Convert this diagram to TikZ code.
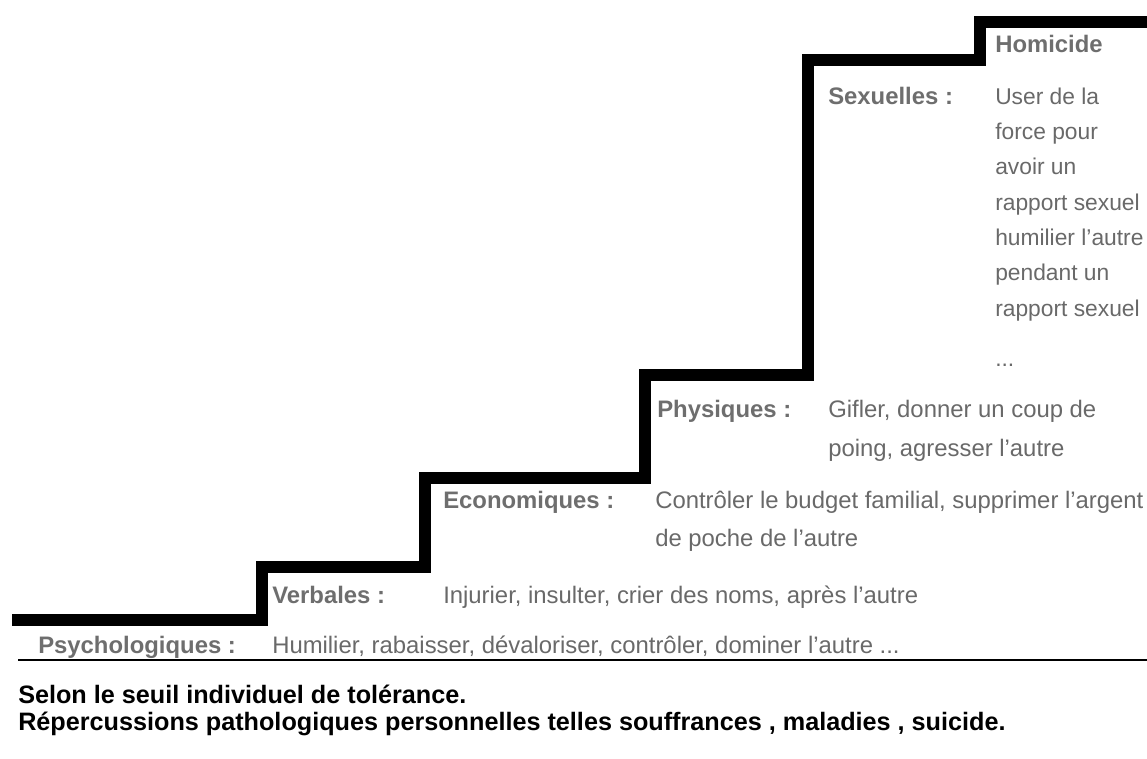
\documentclass[tikz,border=0pt]{standalone}
\usepackage{fontspec}
\setmainfont{Liberation Sans}
\definecolor{txtgray}{RGB}{105,105,105}
\definecolor{lblgray}{RGB}{110,110,110}
\begin{document}
\begin{tikzpicture}[x=0.75pt,y=-0.75pt,
  stair/.style={line width=9.5pt,black,line join=miter},
  body/.style={anchor=base west,inner sep=0pt,text=txtgray,font=\fontsize{17.9}{20}\selectfont},
  sbody/.style={body,font=\fontsize{17.1}{20}\selectfont},
  lbl/.style={anchor=base west,inner sep=0pt,text=lblgray,font=\fontsize{17.9}{20}\selectfont\bfseries},
  foot/.style={anchor=base west,inner sep=0pt,text=black,font=\fontsize{18.9}{21}\selectfont\bfseries}]
\useasboundingbox (0,0) rectangle (1147,758);
% stair corners
\coordinate (s0) at (12,620);
\coordinate (s1) at (262,620);
\coordinate (s2) at (262,567);
\coordinate (s3) at (425,567);
\coordinate (s4) at (425,478);
\coordinate (s5) at (645,478);
\coordinate (s6) at (645,375);
\coordinate (s7) at (808,375);
\coordinate (s8) at (808,60);
\coordinate (s9) at (980,60);
\coordinate (s10) at (980,22);
\coordinate (s11) at (1150,22);
\draw[stair] (s0) -- (s1) -- (s2) -- (s3) -- (s4) -- (s5) -- (s6) -- (s7) -- (s8) -- (s9) -- (s10) -- (s11);
% base line
\coordinate (b0) at (18,660);
\coordinate (b1) at (1150,660);
\draw[line width=2.2pt] (b0) -- (b1);
% texts
\node[lbl] (psy) at (38,653) {Psychologiques :};
\node[body] (psyt) at (272,653) {Humilier, rabaisser, dévaloriser, contrôler, dominer l'autre ...};
\node[lbl] (ver) at (272,603) {Verbales :};
\node[body] (vert) at (443,603) {Injurier, insulter, crier des noms, après l'autre};
\node[lbl] (eco) at (443,508) {Economiques :};
\node[body] (eco1) at (655,508) {Contrôler le budget familial, supprimer l'argent};
\node[body] (eco2) at (655,546) {de poche de l'autre};
\node[lbl] (phy) at (657,417) {Physiques :};
\node[body] (phy1) at (828,417) {Gifler, donner un coup de};
\node[body] (phy2) at (828,456) {poing, agresser l'autre};
\node[lbl] (sex) at (828,104) {Sexuelles :};
\node[sbody] (sx1) at (995,104) {User de la};
\node[sbody] (sx2) at (995,139) {force pour};
\node[sbody] (sx3) at (995,174) {avoir un};
\node[sbody] (sx4) at (995,210) {rapport sexuel};
\node[sbody] (sx5) at (995,245) {humilier l'autre};
\node[sbody] (sx6) at (995,280) {pendant un};
\node[sbody] (sx7) at (995,316) {rapport sexuel};
\node[sbody] (sx8) at (995,366) {...};
\node[lbl] (hom) at (995,52) {Homicide};
\node[foot] (f1) at (18,703) {Selon le seuil individuel de tolérance.};
\node[foot] (f2) at (18,730) {Répercussions pathologiques personnelles telles souffrances , maladies , suicide.};
\end{tikzpicture}
\end{document}
